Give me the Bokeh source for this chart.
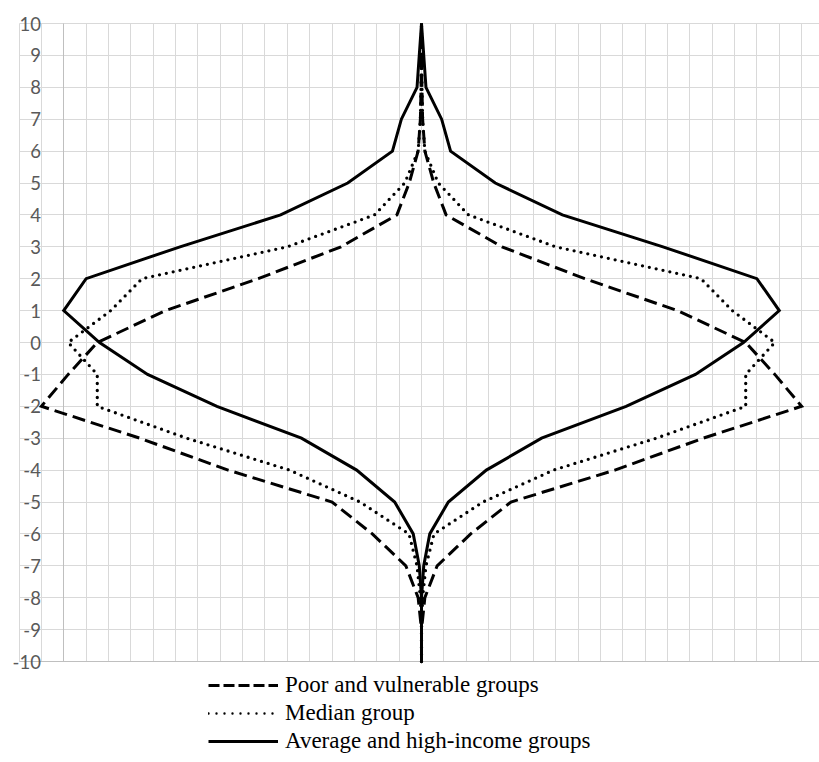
import numpy as np
from bokeh.plotting import figure
from bokeh.models import Legend, LegendItem, FixedTicker, Grid
from bokeh.core.properties import value
from bokeh.embed import file_html
from bokeh.resources import INLINE

# ---- data (half-widths, mirrored around 0) ----
levels = list(range(-10, 11))
poor = [0, 0, 0.15, 0.7, 2.2, 4.0, 8.65, 12.6, 17.0, 15.8, 14.5,
        11.45, 7.3, 3.6, 1.1, 0.55, 0.15, 0.05, 0.02, 0, 0]
median = [0, 0, 0.05, 0.2, 0.56, 2.75, 5.9, 10.5, 14.5, 14.5, 15.8,
          13.9, 12.5, 6.0, 2.1, 0.75, 0.15, 0.05, 0.02, 0, 0]
high = [0, 0, 0, 0.1, 0.37, 1.2, 2.9, 5.37, 9.15, 12.25, 14.4,
        16.0, 15.0, 10.8, 6.3, 3.3, 1.3, 0.9, 0.2, 0.1, 0]
series_labels = ["Poor and vulnerable groups", "Median group",
                 "Average and high-income groups"]
y_ticks = list(range(-10, 11))
y_tick_labels = [str(t) for t in y_ticks]
x_grid_ticks = list(range(-18, 19))

# ---- layout ----
W, H = 819, 762
PXU_X = 22.36
PXU_Y = 31.9
x_start = -421 / PXU_X
x_end = x_start + W / PXU_X
y_end = 10 + 23 / PXU_Y
y_start = y_end - H / PXU_Y

p = figure(width=W, height=H, x_range=(x_start, x_end), y_range=(y_start, y_end),
           output_backend="svg", toolbar_location=None,
           x_axis_location=None, y_axis_location=None,
           min_border=0, outline_line_color=None)

GRID = "#d9d9d9"
p.xgrid.ticker = FixedTicker(ticks=x_grid_ticks)
p.xgrid.cross_bounds = (-10, 10)
p.xgrid.grid_line_color = GRID
p.ygrid.ticker = FixedTicker(ticks=y_ticks)
p.ygrid.cross_bounds = (-18, 18)
p.ygrid.grid_line_color = GRID

p.add_layout(Grid(dimension=0, ticker=FixedTicker(ticks=[-16]), cross_bounds=(-10, 10),
                  grid_line_color="#bfbfbf"))
p.add_layout(Grid(dimension=1, ticker=FixedTicker(ticks=[-10]), cross_bounds=(-18, 18),
                  grid_line_color="#bfbfbf"))

# y tick labels
p.text(x=[-17] * len(y_ticks), y=y_ticks, text=y_tick_labels,
       text_font=value("Lato"), text_font_size="18.5px", text_color="#595959",
       text_align="right", text_baseline="middle", x_offset=-0.5)

styles = [
    dict(line_dash="13 6", line_width=3, line_cap="butt"),
    dict(line_dash="0 7", line_width=3.3, line_cap="round"),
    dict(line_dash="solid", line_width=3, line_cap="butt"),
]
legend_styles = [
    dict(line_dash="11 4", line_width=3, line_cap="butt"),
    dict(line_dash="0 8", line_width=2.4, line_cap="round"),
    dict(line_dash="solid", line_width=3, line_cap="butt"),
]

items = []
for vals, st, lst, lab in zip([poor, median, high], styles, legend_styles, series_labels):
    half = np.array(vals, dtype=float)
    for sgn in (1, -1):
        p.line(sgn * half, levels, line_color="black", line_join="miter", **st)
    dummy = p.line(x=[np.nan], y=[np.nan], line_color="black", **lst)
    items.append(LegendItem(label=lab, renderers=[dummy]))

legend = Legend(items=items, location=(208, 8), orientation="vertical",
                glyph_width=70, glyph_height=26, label_height=26, spacing=2,
                padding=0, margin=0, label_standoff=7,
                label_text_font="Liberation Serif", label_text_font_size="23px",
                label_text_color="black", label_text_baseline="middle",
                border_line_color=None, background_fill_alpha=0)
p.add_layout(legend)

open("out.html", "w").write(file_html(p, INLINE))
